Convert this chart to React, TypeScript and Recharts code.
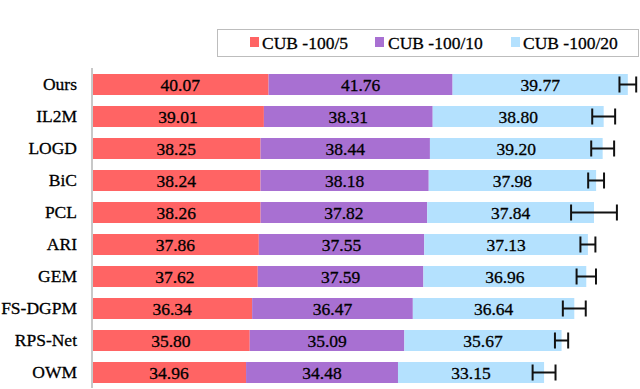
import React from 'react';
import { BarChart, Bar, XAxis, YAxis, LabelList, ErrorBar } from 'recharts';

const categories = ['Ours', 'IL2M', 'LOGD', 'BiC', 'PCL', 'ARI', 'GEM', 'FS-DGPM', 'RPS-Net', 'OWM'];
const cub5 = [40.07, 39.01, 38.25, 38.24, 38.26, 37.86, 37.62, 36.34, 35.8, 34.96];
const cub10 = [41.76, 38.31, 38.44, 38.18, 37.82, 37.55, 37.59, 36.47, 35.09, 34.48];
const cub20 = [39.77, 38.8, 39.2, 37.98, 37.84, 37.13, 36.96, 36.64, 35.67, 33.15];
const errors = [1.9, 2.6, 2.6, 1.8, 5.2, 1.7, 2.2, 2.6, 1.5, 2.6];
const seriesNames = ['CUB -100/5', 'CUB -100/10', 'CUB -100/20'];
const seriesColors = ['#FF6464', '#A870D2', '#B4E1FE'];

const data = categories.map((name, i) => ({
  name,
  s5: cub5[i],
  s10: cub10[i],
  s20: cub20[i],
  err: errors[i],
}));

const FONT = 'Liberation Serif';

const CenterLabel = (props: any) => {
  const vb = props.viewBox || {};
  const x = Number(props.x ?? vb.x);
  const y = Number(props.y ?? vb.y);
  const w = Number(props.width ?? vb.width);
  const h = Number(props.height ?? vb.height);
  return (
    <text
      x={x + w / 2}
      y={y + h / 2 + 6}
      textAnchor="middle"
      style={{ fontFamily: FONT, fontSize: '17.5px', fill: '#000', stroke: '#000', strokeWidth: 0.3 }}
    >
      {Number(props.value).toFixed(2)}
    </text>
  );
};

const legendPos = [
  { sq: 249, tx: 261 },
  { sq: 374, tx: 387 },
  { sq: 510, tx: 522 },
];

export default function App() {
  return (
    <div style={{ position: 'absolute', left: 0, top: 0, width: 640, height: 389, background: '#fff', overflow: 'hidden', fontFamily: FONT }}>
      <BarChart
        width={640}
        height={389}
        data={data}
        layout="vertical"
        margin={{ top: 68, right: 6, bottom: 1, left: 0 }}
        barSize={21}
      >
        <XAxis type="number" domain={[0, 123]} hide allowDataOverflow />
        <YAxis
          type="category"
          dataKey="name"
          width={92}
          tickLine={false}
          tickSize={6}
          tickMargin={9}
          axisLine={{ stroke: '#c8c8c8', strokeWidth: 2 }}
          tick={{ fill: '#000', fontSize: 17.5, fontFamily: FONT, stroke: '#000', strokeWidth: 0.3 }}
          interval={0}
        />
        <Bar dataKey="s5" stackId="a" fill={seriesColors[0]} isAnimationActive={false}>
          <LabelList dataKey="s5" content={CenterLabel} />
        </Bar>
        <Bar dataKey="s10" stackId="a" fill={seriesColors[1]} isAnimationActive={false}>
          <LabelList dataKey="s10" content={CenterLabel} />
        </Bar>
        <Bar dataKey="s20" stackId="a" fill={seriesColors[2]} isAnimationActive={false}>
          <LabelList dataKey="s20" content={CenterLabel} />
          <ErrorBar dataKey="err" direction="x" width={8} strokeWidth={2} stroke="#111" isAnimationActive={false} />
        </Bar>
      </BarChart>
      <div
        style={{
          position: 'absolute',
          left: 217,
          top: 29,
          width: 422,
          height: 28,
          border: '1.5px solid #bdbdbd',
          boxSizing: 'border-box',
          fontFamily: FONT,
          fontSize: 17.5,
          color: '#000',
          WebkitTextStroke: '0.3px #000',
        }}
      >
        {seriesNames.map((n, i) => (
          <React.Fragment key={n}>
            <div
              style={{
                position: 'absolute',
                left: legendPos[i].sq - 217,
                top: 7,
                width: 9,
                height: 10,
                background: seriesColors[i],
              }}
            />
            <div
              style={{
                position: 'absolute',
                left: legendPos[i].tx - 217,
                top: 1,
                lineHeight: '24px',
                whiteSpace: 'nowrap',
              }}
            >
              {n}
            </div>
          </React.Fragment>
        ))}
      </div>
    </div>
  );
}
